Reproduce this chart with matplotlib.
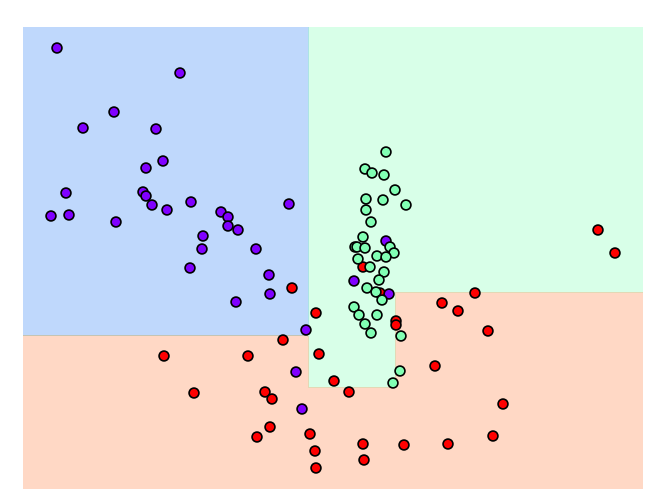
import numpy as np
import matplotlib
matplotlib.use('Agg')
import matplotlib.pyplot as plt

# class 0 (purple)
x0 = [3.4, 15.7, 9.1, 6.0, 13.3, 14.0, 12.3, 4.3, 12.0, 12.3, 2.8, 4.6,
      9.3, 12.9, 14.4, 16.8, 19.8, 20.5, 20.5, 21.5, 18.0, 17.9, 23.3, 26.6,
      16.7, 24.6, 24.7, 21.3, 28.3, 36.3, 33.1, 36.6, 27.3, 27.9]
y0 = [44.1, 41.6, 37.7, 36.1, 36.0, 32.8, 32.1, 29.6, 29.7, 29.3, 27.3, 27.4,
      26.7, 28.4, 27.9, 28.7, 27.7, 27.2, 26.3, 25.9, 25.3, 24.0, 24.0, 28.5,
      22.1, 21.4, 19.5, 18.7, 15.9, 24.8, 20.8, 19.5, 11.7, 8.0]

# class 1 (green)
x1 = [36.3, 34.2, 34.9, 36.1, 37.2, 34.3, 36.0, 38.3, 34.3, 34.8, 34.0, 33.2,
      33.4, 34.2, 36.7, 37.1, 35.4, 36.3, 33.5, 34.7, 36.1, 35.6, 34.4, 35.3,
      35.9, 33.1, 33.6, 35.4, 34.2, 34.8, 37.8, 37.7, 37.0]
y1 = [33.7, 32.0, 31.6, 31.4, 29.9, 29.0, 28.9, 28.4, 27.9, 26.7, 25.2, 24.2,
      24.2, 24.1, 24.2, 23.6, 23.3, 23.2, 23.0, 22.2, 21.7, 20.9, 20.1, 19.7,
      18.9, 18.2, 17.4, 17.4, 16.5, 15.6, 15.3, 11.8, 10.6]

# class 2 (red)
x2 = [26.9, 29.3, 26.0, 34.0, 35.7, 37.3, 37.3, 14.1, 22.5, 29.6, 31.1, 32.6,
      17.1, 24.2, 24.9, 24.7, 23.4, 28.7, 29.2, 29.3, 34.0, 34.1, 38.1, 42.5,
      47.0, 48.0, 41.2, 46.5, 41.9, 43.5, 45.2, 57.5, 59.2]
y2 = [20.1, 17.6, 14.9, 22.2, 19.6, 16.8, 16.4, 13.3, 13.3, 13.5, 10.8, 9.7,
      9.6, 9.7, 9.0, 6.2, 5.2, 5.5, 3.8, 2.1, 4.5, 2.9, 4.4, 4.5,
      5.3, 8.5, 12.3, 15.8, 18.6, 17.8, 19.6, 25.9, 23.6]

# decision tree splits
x_split = [28.55, 37.25]
y_left, y_mid, y_right = 15.4, 10.17, 19.67

xlim = (0, 62)
ylim = (0, 46.2)


def predict(xx, yy):
    z = np.full(xx.shape, 2)
    left = xx < x_split[0]
    mid = (xx >= x_split[0]) & (xx < x_split[1])
    right = xx >= x_split[1]
    z[left & (yy > y_left)] = 0
    z[mid & (yy > y_mid)] = 1
    z[right & (yy > y_right)] = 1
    return z


# red drawn first so the overlapping purple/green points sit on top
X = np.concatenate([x2, x0, x1])
Y = np.concatenate([y2, y0, y1])
labels = np.array([2] * len(x2) + [0] * len(x0) + [1] * len(x1))

fig = plt.figure(figsize=(6.53, 4.99), dpi=100)
ax = fig.add_axes([23 / 653, 10 / 499, 620 / 653, 462 / 499])

ax.scatter(X, Y, c=labels, s=50, cmap='rainbow', vmin=0, vmax=2,
           edgecolors='k', linewidths=1.2, zorder=3)
ax.axis('off')

xx, yy = np.meshgrid(np.linspace(*xlim, num=400), np.linspace(*ylim, num=400))
Z = predict(xx, yy)
ax.contourf(xx, yy, Z, alpha=0.3, levels=np.arange(4) - 0.5,
            cmap='rainbow', zorder=1)
ax.set(xlim=xlim, ylim=ylim)

fig.savefig('out.png', dpi=100)
